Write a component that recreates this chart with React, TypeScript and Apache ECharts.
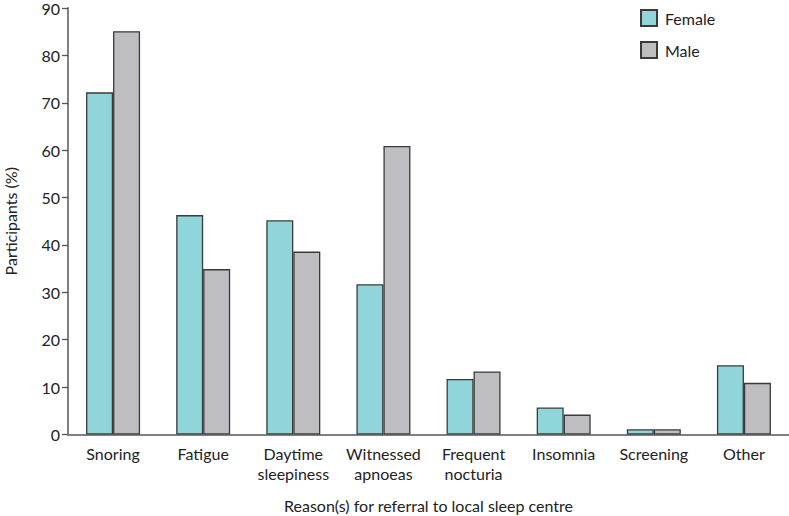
import React, { useEffect, useRef } from "react";
import * as echarts from "echarts";

const categories = [
  "Snoring",
  "Fatigue",
  "Daytime\nsleepiness",
  "Witnessed\napnoeas",
  "Frequent\nnocturia",
  "Insomnia",
  "Screening",
  "Other",
];
const femaleValues = [72.2, 46.3, 45.2, 31.7, 11.7, 5.7, 1.1, 14.6];
const maleValues = [85.1, 34.9, 38.6, 60.9, 13.3, 4.2, 1.1, 10.9];
const yTicks = { min: 0, max: 90, interval: 10 };

const FONT = "Lato";
const FS = 16;

export default function App() {
  const ref = useRef<HTMLDivElement>(null);
  useEffect(() => {
    document.body.style.margin = "0";
    const chart = echarts.init(ref.current!, undefined, { renderer: "svg" });
    chart.setOption({
      animation: false,
      textStyle: { fontFamily: FONT },
      grid: {
        left: 68,
        right: 0,
        top: 8,
        bottom: 81.5,
        containLabel: false,
        outerBoundsMode: "none",
      },
      legend: {
        orient: "vertical",
        left: 640,
        top: 9,
        padding: 0,
        itemWidth: 16,
        itemHeight: 16,
        itemGap: 14,
        icon: "rect",
        textStyle: { fontFamily: FONT, fontSize: FS, color: "#222", padding: [0, 0, 0, 3] },
        data: ["Female", "Male"],
      },
      xAxis: {
        type: "category",
        data: categories,
        name: "Reason(s) for referral to local sleep centre",
        nameLocation: "middle",
        nameGap: 63,
        nameTextStyle: { fontFamily: FONT, fontSize: FS, color: "#222" },
        axisLine: { lineStyle: { color: "#808080", width: 2 } },
        axisTick: {
          alignWithLabel: true,
          length: 7,
          lineStyle: { color: "#222", width: 1.3 },
        },
        axisLabel: {
          fontFamily: FONT,
          fontSize: FS,
          color: "#222",
          lineHeight: 20,
          margin: 9,
          interval: 0,
        },
      },
      yAxis: {
        type: "value",
        min: yTicks.min,
        max: yTicks.max,
        interval: yTicks.interval,
        name: "Participants (%)",
        nameLocation: "middle",
        nameGap: 50,
        nameRotate: 90,
        nameTextStyle: { fontFamily: FONT, fontSize: FS, color: "#222" },
        axisLine: { show: true, lineStyle: { color: "#808080", width: 2 } },
        axisTick: { show: true, length: 6, lineStyle: { color: "#555", width: 1.3 } },
        axisLabel: { fontFamily: FONT, fontSize: FS, color: "#222", margin: 8 },
        splitLine: { show: false },
      },
      series: [
        {
          name: "Female",
          type: "bar",
          data: femaleValues,
          barWidth: 27,
          barGap: "0%",
          itemStyle: { color: "#8fd5d9", borderColor: "#3a3a3a", borderWidth: 1.3 },
        },
        {
          name: "Male",
          type: "bar",
          data: maleValues,
          barWidth: 27,
          barGap: "0%",
          itemStyle: { color: "#bebec0", borderColor: "#3a3a3a", borderWidth: 1.3 },
        },
      ],
    });
    return () => chart.dispose();
  }, []);
  return <div ref={ref} style={{ width: 789, height: 516 }} />;
}
